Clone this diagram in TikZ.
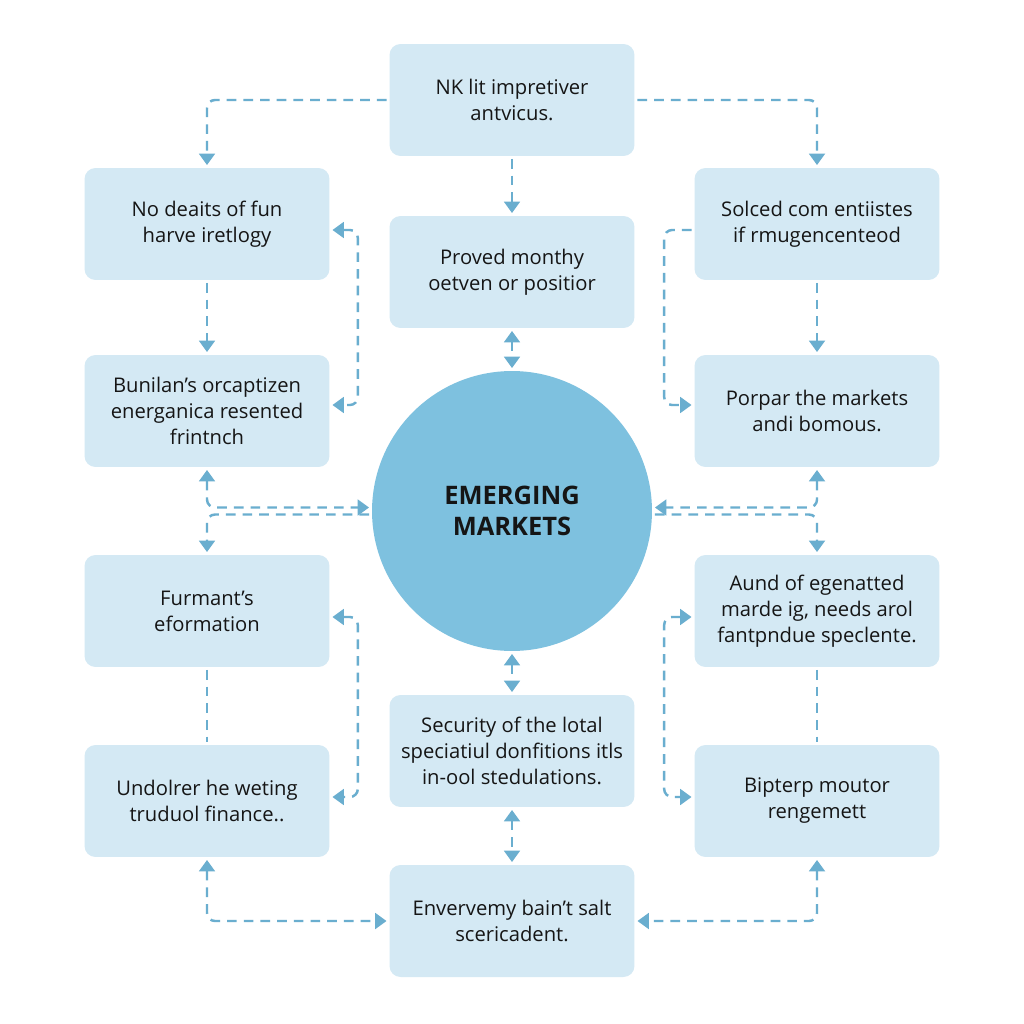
\documentclass[tikz,border=0pt]{standalone}
\usepackage{fontspec}
\setmainfont{Open Sans}
\usetikzlibrary{arrows.meta}
\definecolor{boxfill}{HTML}{D4E9F4}
\definecolor{hubfill}{HTML}{7EC1DF}
\definecolor{linkblue}{HTML}{6AAECF}
\definecolor{inktext}{HTML}{151515}
\tikzset{
  infobox/.style={fill=boxfill, rounded corners=0.22cm, minimum width=4.9cm,
    minimum height=2.24cm, align=center, text=inktext,
    font=\fontsize{11.5}{14.8}\selectfont},
  hub/.style={circle, fill=hubfill, minimum size=5.6cm, align=center,
    text=inktext, font=\fontsize{14.5}{17.5}\selectfont\bfseries},
  link/.style={linkblue, line width=1.4pt, dash pattern=on 5.5pt off 4pt,
    rounded corners=0.16cm, shorten >=1.5pt, shorten <=1.5pt},
  tip/.style={arrows={-{Triangle[width=9pt,length=6.5pt]}}},
  tips/.style={arrows={{Triangle[width=9pt,length=6.5pt]}-{Triangle[width=9pt,length=6.5pt]}}}
}
\begin{document}
\begin{tikzpicture}[x=0.02cm, y=-0.02cm]
    \useasboundingbox[fill=white] (0,0) rectangle (1024,1024);
    % middle column
    \node[infobox] (top) at (512,100) {NK lit impretiver\\ antvicus.};
    \node[infobox] (prov) at (512,272) {Proved monthy\\ oetven or positior};
    \node[hub] (hub) at (512,511) {EMERGING\\ MARKETS};
    \node[infobox] (secu) at (512,751) {Security of the lotal\\ speciatiul donfitions itls\\ in-ool stedulations.};
    \node[infobox] (bot) at (512,921) {Envervemy bain't salt\\ scericadent.};
    % left column
    \node[infobox] (lone) at (207,224) {No deaits of fun\\ harve iretlogy};
    \node[infobox] (ltwo) at (207,411) {Bunilan's orcaptizen\\ energanica resented\\ frintnch};
    \node[infobox] (lthree) at (207,611) {Furmant's\\ eformation};
    \node[infobox] (lfour) at (207,801) {Undolrer he weting\\ truduol finance..};
    % right column
    \node[infobox] (rone) at (817,224) {Solced com entiistes\\ if rmugencenteod};
    \node[infobox] (rtwo) at (817,411) {Porpar the markets\\ andi bomous.};
    \node[infobox] (rthree) at (817,611) {Aund of egenatted\\ marde ig, needs arol\\ fantpndue speclente.};
    \node[infobox] (rfour) at (817,801) {Bipterp moutor\\ rengemett};

    % top branches
    \draw[link,tip] (top.west) -| (lone.north);
    \draw[link,tip] (top.east) -| (rone.north);
    \draw[link,tip] (top.south) -- (prov.north);
    % centre spine
    \draw[link,tips] (prov.south) -- (hub.north);
    \draw[link,tips] (hub.south) -- (secu.north);
    \draw[link,tips] (secu.south) -- (bot.north);
    % columns
    \draw[link,tip] (lone.south) -- (ltwo.north);
    \draw[link] (lthree.south) -- (lfour.north);
    \draw[link,tip] (rone.south) -- (rtwo.north);
    \draw[link] (rthree.south) -- (rfour.north);
    % side brackets
    \draw[link,tips] ([yshift=-0.12cm]lone.east) -- ++(28,0) |- ([yshift=0.12cm]ltwo.east);
    \draw[link,tips] ([yshift=-0.12cm]lthree.east) -- ++(28,0) |- ([yshift=0.08cm]lfour.east);
    \draw[link,tip] ([yshift=-0.12cm]rone.west) -- ++(-30,0) |- ([yshift=0.12cm]rtwo.west);
    \draw[link,tips] ([yshift=-0.12cm]rthree.west) -- ++(-30,0) |- ([yshift=0.08cm]rfour.west);
    % into the hub
    \draw[link,tips] (ltwo.south) |- ([yshift=0.07cm]hub.west);
    \draw[link,tip] ([yshift=-0.07cm]hub.west) -| (lthree.north);
    \draw[link,tips] (rtwo.south) |- ([yshift=0.07cm]hub.east);
    \draw[link,tip] ([yshift=-0.07cm]hub.east) -| (rthree.north);
    % bottom corners
    \draw[link,tips] (lfour.south) |- (bot.west);
    \draw[link,tips] (rfour.south) |- (bot.east);
\end{tikzpicture}
\end{document}
